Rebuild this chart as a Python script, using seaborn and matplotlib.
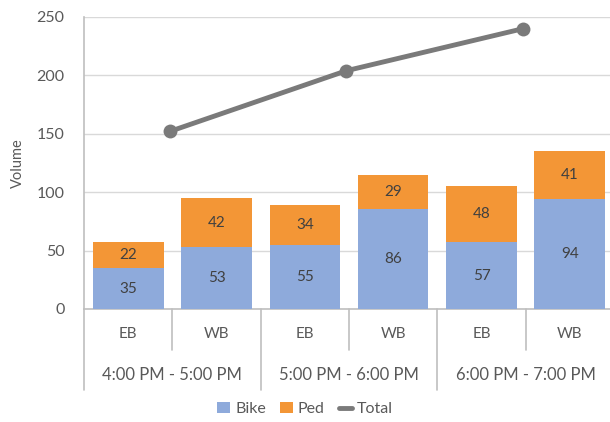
import matplotlib
matplotlib.use("Agg")
import matplotlib.pyplot as plt
import matplotlib.transforms as mtransforms
from matplotlib.patches import Patch
from matplotlib.lines import Line2D
import numpy as np
import pandas as pd
import seaborn as sns

# Hourly bike / pedestrian counts by direction
periods = ["4:00 PM - 5:00 PM", "5:00 PM - 6:00 PM", "6:00 PM - 7:00 PM"]
directions = ["EB", "WB"]
bike = [35, 53, 55, 86, 57, 94]
ped = [22, 42, 34, 29, 48, 41]
total = [152, 204, 240]

BLUE = "#8eaadb"
ORANGE = "#f39636"
GRAY = "#7a7a7a"
TEXT = "#404040"
TICK = "#595959"

sns.set_theme(style="white")
plt.rcParams["font.family"] = ["Lato", "DejaVu Sans"]

slots = [f"{p}|{d}" for p in periods for d in directions]
df = pd.DataFrame({
    "slot": slots,
    "bike": bike,
    "ped": ped,
    "stack": np.array(bike) + np.array(ped),
})
line_df = pd.DataFrame({"x": [0.47, 2.47, 4.47], "total": total})

fig = plt.figure(figsize=(6.10, 4.22), dpi=100)
ax = fig.add_axes([84 / 610, 1 - 309 / 422, (614 - 84) / 610, (309 - 17) / 422])

sns.barplot(data=df, x="slot", y="stack", color=ORANGE, saturation=1,
            width=0.8, linewidth=0, ax=ax, zorder=2)
sns.barplot(data=df, x="slot", y="bike", color=BLUE, saturation=1,
            width=0.8, linewidth=0, ax=ax, zorder=3)
sns.lineplot(data=line_df, x="x", y="total", color=GRAY, linewidth=3.5,
             marker="o", markersize=10, markeredgewidth=0, ax=ax, zorder=4)

# value labels inside each segment
for i, (b, p) in enumerate(zip(bike, ped)):
    ax.text(i, b / 2, str(b), ha="center", va="center", color=TEXT, fontsize=11, zorder=5)
    ax.text(i, b + p / 2, str(p), ha="center", va="center", color=TEXT, fontsize=11, zorder=5)

ax.set_xlim(-0.5, 5.5)
ax.set_ylim(0, 250)
ax.set_yticks([0, 50, 100, 150, 200, 250])
ax.yaxis.grid(True, color="#d9d9d9", linewidth=1)
ax.set_axisbelow(True)
ax.tick_params(axis="y", labelsize=11.5, labelcolor=TICK, length=0, pad=14)
ax.set_ylabel("Volume", fontsize=10.5, color=TICK, labelpad=8)
ax.set_xlabel("")
ax.set_xticks([])
for side in ["top", "right"]:
    ax.spines[side].set_visible(False)
ax.spines["left"].set_color("#bfbfbf")
ax.spines["bottom"].set_color("#bfbfbf")
ax.spines["left"].set_linewidth(1.2)
ax.spines["bottom"].set_linewidth(1.2)

# two-level category axis below the plot
trans = mtransforms.blended_transform_factory(ax.transData, fig.transFigure)
for i, s in enumerate(slots):
    ax.text(i, 1 - 334 / 422, s.split("|")[1], transform=trans, ha="center",
            va="center", fontsize=11, color=TICK)
for g, p in enumerate(periods):
    ax.text(2 * g + 0.5, 1 - 375 / 422, p, transform=trans, ha="center",
            va="center", fontsize=12, color=TICK)
for k in range(7):
    xk = k - 0.5
    bottom = 1 - 350 / 422 if k % 2 == 1 else 1 - 390 / 422
    ax.plot([xk, xk], [1 - 309 / 422, bottom], transform=trans, color="#bfbfbf",
            linewidth=1.2, clip_on=False)

handles = [Patch(facecolor=BLUE, edgecolor="none"),
           Patch(facecolor=ORANGE, edgecolor="none"),
           Line2D([0], [0], color=GRAY, linewidth=3.5)]
fig.legend(handles, ["Bike", "Ped", "Total"], loc="center",
           bbox_to_anchor=(0.5, 1 - 409 / 422), ncol=3, frameon=False,
           fontsize=11.5, handlelength=0.8, handleheight=0.7, handletextpad=0.3,
           columnspacing=0.9, labelcolor=TICK)

fig.savefig("out.png", dpi=100)
